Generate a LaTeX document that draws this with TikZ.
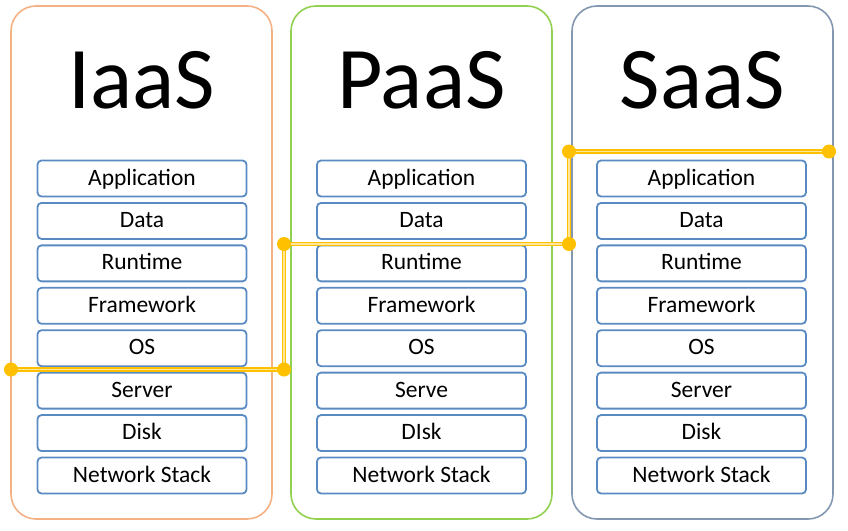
\documentclass[tikz,border=0pt]{standalone}
\usepackage{fontspec}
\setmainfont{Carlito}
\definecolor{iaascol}{HTML}{F4B183}
\definecolor{paascol}{HTML}{92D050}
\definecolor{saascol}{HTML}{8497B0}
\definecolor{layerblue}{HTML}{5A8AC2}
\definecolor{gold}{HTML}{FFC000}
\definecolor{paleyellow}{HTML}{FFE699}
\begin{document}
\begin{tikzpicture}[x=1pt,y=-1pt,
 panel/.style={draw, line width=1.6pt, rounded corners=25pt, minimum width=261pt, minimum height=513pt, inner sep=0pt},
 layer/.style={draw=layerblue, line width=1.8pt, rounded corners=4pt, minimum width=209pt, minimum height=36pt, inner sep=0pt, text height=15pt, text depth=2pt, font=\fontsize{23.5}{24}\selectfont},
 title/.style={font=\fontsize{88}{90}\selectfont, anchor=base, inner sep=0pt},
 link/.style={draw=gold, line width=1.6pt, double=paleyellow, double distance=1.4pt},
 dot/.style={circle, fill=gold, minimum size=14pt, inner sep=0pt}]
\useasboundingbox (0,0) rectangle (848,530);
% panels
\node[panel, draw=iaascol] (iaas) at (141.5,262.5) {};
\node[panel, draw=paascol] (paas) at (421.5,262.5) {};
\node[panel, draw=saascol] (saas) at (702.5,262.5) {};
% titles
\node[title] (tI) at (141.5,108) {IaaS};
\node[title] (tP) at (421.5,108) {PaaS};
\node[title] (tS) at (702.5,108) {SaaS};
% layers
\foreach \cx/\p/\a/\b/\c/\d/\e/\f/\g/\h in {
 142/I/Application/Data/Runtime/Framework/OS/Server/Disk/Network Stack,
 421.5/P/Application/Data/Runtime/Framework/OS/Serve/DIsk/Network Stack,
 701.5/S/Application/Data/Runtime/Framework/OS/Server/Disk/Network Stack}{
 \node[layer] (\p1) at (\cx,178.5) {\a};
 \node[layer] (\p2) at (\cx,220.93) {\b};
 \node[layer] (\p3) at (\cx,263.36) {\c};
 \node[layer] (\p4) at (\cx,305.79) {\d};
 \node[layer] (\p5) at (\cx,348.21) {\e};
 \node[layer] (\p6) at (\cx,390.64) {\f};
 \node[layer] (\p7) at (\cx,433.07) {\g};
 \node[layer] (\p8) at (\cx,475.5) {\h};
}
% boundary line
\coordinate (c1) at (11,369.5);
\coordinate (c2) at (284,369.5);
\coordinate (c3) at (284,244);
\coordinate (c4) at (569,244);
\coordinate (c5) at (569,151.5);
\coordinate (c6) at (829,151.5);
\draw[link] (c1) -- (c2) -- (c3) -- (c4) -- (c5) -- (c6);
\foreach \i in {1,...,6} \node[dot] (d\i) at (c\i) {};
\end{tikzpicture}
\end{document}
